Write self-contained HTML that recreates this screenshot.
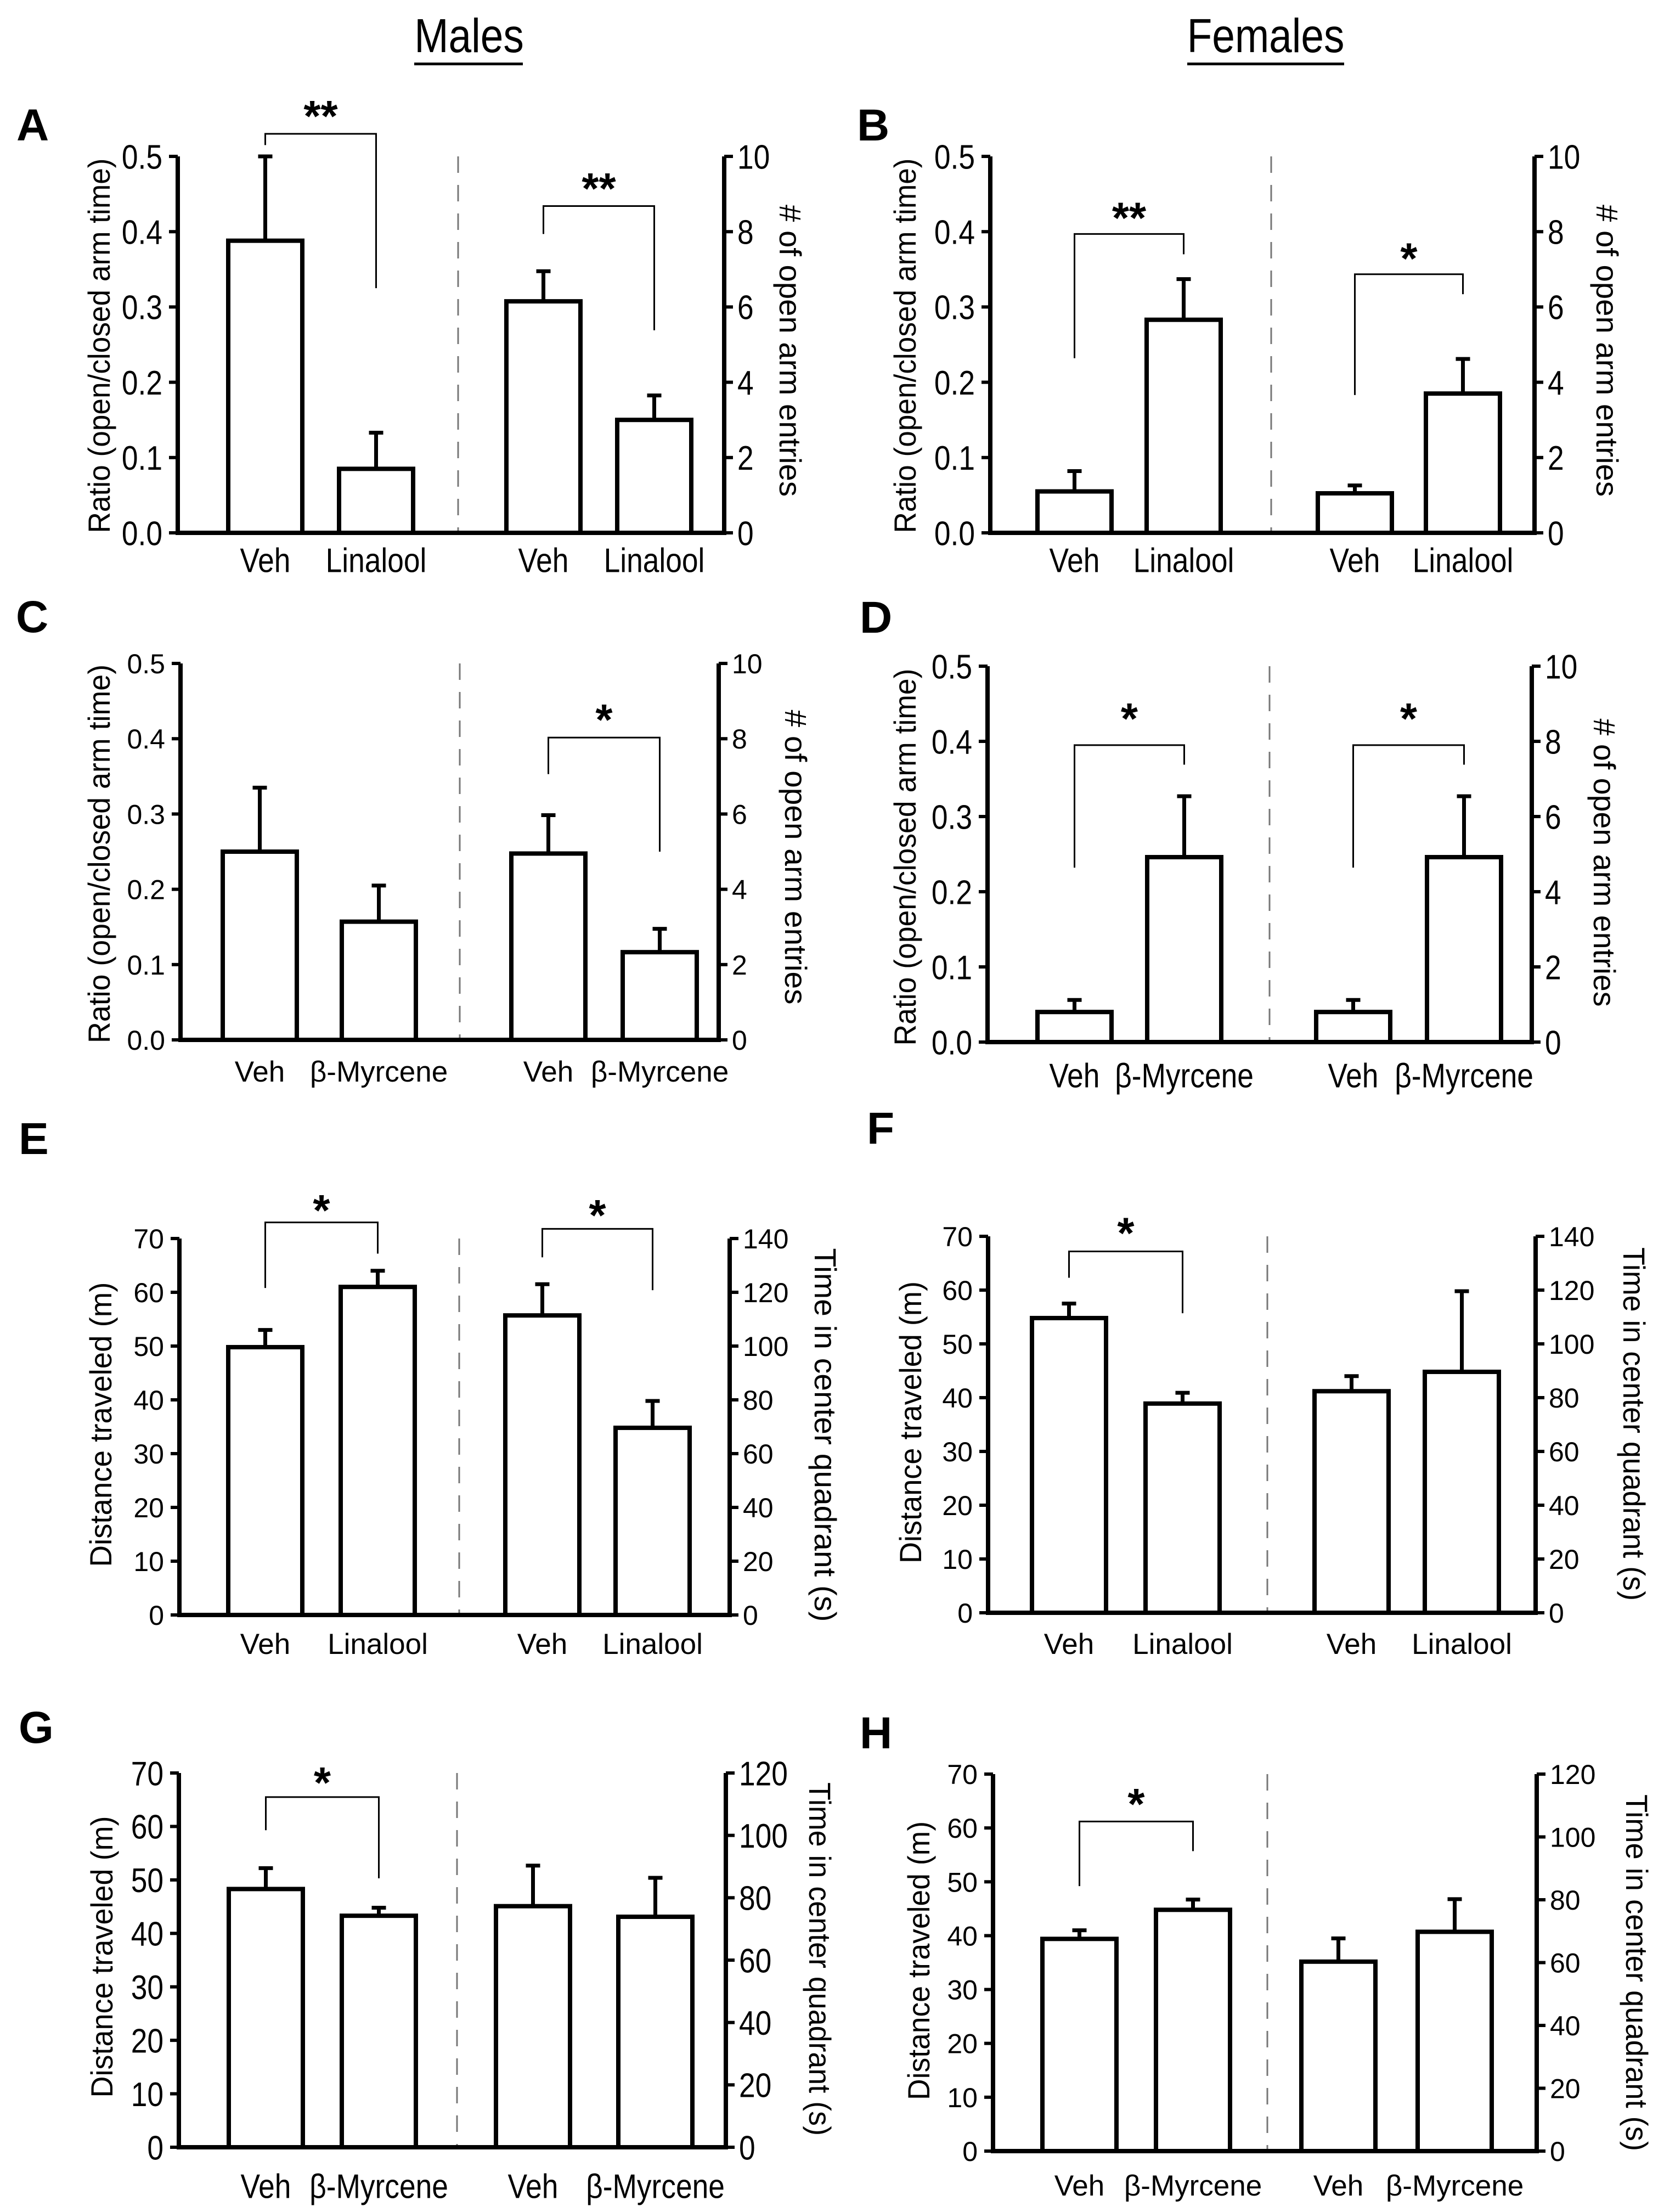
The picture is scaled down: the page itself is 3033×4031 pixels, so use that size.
<!DOCTYPE html>
<html><head><meta charset="utf-8">
<style>
html,body{margin:0;padding:0;background:#fff;}
svg{display:block;font-family:"Liberation Sans",Arial,sans-serif;}
</style></head>
<body>
<svg id="fig" width="3033" height="4031" viewBox="0 0 3033 4031" xmlns="http://www.w3.org/2000/svg">
<rect x="0" y="0" width="3033" height="4031" fill="#fff"/>
<g>
<text x="855" y="95" font-size="87" text-anchor="middle" transform="translate(855 0) scale(0.86 1) translate(-855 0)">Males</text>
<rect x="755" y="114" width="198" height="5" fill="#000"/>
</g>
<g>
<text x="2307" y="95" font-size="87" text-anchor="middle" transform="translate(2307 0) scale(0.86 1) translate(-2307 0)">Females</text>
<rect x="2164" y="114" width="286" height="5" fill="#000"/>
</g>
</svg>
<script>
// ---- data (per panel A..H) ----
const panelIds = ['A','B','C','D','E','F','G','H'];
const xCategories = [
  ['Veh','Linalool','Veh','Linalool'],
  ['Veh','Linalool','Veh','Linalool'],
  ['Veh','β-Myrcene','Veh','β-Myrcene'],
  ['Veh','β-Myrcene','Veh','β-Myrcene'],
  ['Veh','Linalool','Veh','Linalool'],
  ['Veh','Linalool','Veh','Linalool'],
  ['Veh','β-Myrcene','Veh','β-Myrcene'],
  ['Veh','β-Myrcene','Veh','β-Myrcene']
];
// bars 1-2 on left axis, bars 3-4 on right axis
const barValues = [
  [0.388, 0.085, 6.15, 3.0],
  [0.055, 0.283, 1.05, 3.7],
  [0.25, 0.157, 4.95, 2.33],
  [0.04, 0.246, 0.8, 4.92],
  [49.8, 61.0, 111.4, 69.6],
  [54.8, 38.9, 82.4, 89.6],
  [48.3, 43.3, 77.3, 73.9],
  [39.4, 44.8, 60.3, 69.8]
];
const errorTops = [
  [0.50, 0.133, 6.95, 3.65],
  [0.082, 0.337, 1.26, 4.62],
  [0.335, 0.205, 5.97, 2.95],
  [0.056, 0.327, 1.12, 6.54],
  [53.0, 64.0, 123.0, 79.6],
  [57.5, 40.9, 88.0, 119.6],
  [52.2, 44.8, 90.3, 86.4],
  [41.0, 46.7, 67.7, 80.2]
];
const leftMax = [0.5,0.5,0.5,0.5,70,70,70,70];
const rightMax = [10,10,10,10,140,140,120,120];
const leftTickLabels = [
  ['0.0','0.1','0.2','0.3','0.4','0.5'],['0.0','0.1','0.2','0.3','0.4','0.5'],
  ['0.0','0.1','0.2','0.3','0.4','0.5'],['0.0','0.1','0.2','0.3','0.4','0.5'],
  ['0','10','20','30','40','50','60','70'],['0','10','20','30','40','50','60','70'],
  ['0','10','20','30','40','50','60','70'],['0','10','20','30','40','50','60','70']
];
const rightTickLabels = [
  ['0','2','4','6','8','10'],['0','2','4','6','8','10'],['0','2','4','6','8','10'],['0','2','4','6','8','10'],
  ['0','20','40','60','80','100','120','140'],['0','20','40','60','80','100','120','140'],
  ['0','20','40','60','80','100','120'],['0','20','40','60','80','100','120']
];
const leftTitles = ['Ratio (open/closed arm time)','Ratio (open/closed arm time)','Ratio (open/closed arm time)','Ratio (open/closed arm time)',
  'Distance traveled (m)','Distance traveled (m)','Distance traveled (m)','Distance traveled (m)'];
const rightTitles = ['#  of open arm entries','#  of open arm entries','#  of open arm entries','#  of open arm entries',
  'Time in center quadrant (s)','Time in center quadrant (s)','Time in center quadrant (s)','Time in center quadrant (s)'];
// significance: [half(0 left/1 right), bracketTop, leftLegBottom, rightLegBottom, starY, label] in that half's axis units
const sigMarks = [
  [[0,0.53,0.515,0.325,0.566,'**'],[1,8.68,7.94,5.38,9.4,'**']],
  [[0,0.397,0.232,0.370,0.431,'**'],[1,6.87,3.66,6.34,7.54,'*']],
  [[1,8.03,7.06,5.0,8.76,'*']],
  [[0,0.395,0.232,0.369,0.443,'*'],[1,7.9,4.64,7.38,8.86,'*']],
  [[0,73,60.8,67.2,77,'*'],[1,143.6,133,120.8,152.2,'*']],
  [[0,67.2,62.3,55.7,72.4,'*']],
  [[0,65.5,59.3,50.3,70,'*']],
  [[0,61.2,49.2,55.7,66.2,'*']]
];
// ---- layout (pixels, not data) ----
const layout = [
 {axL:324,axR:1320,top:285,base:971,div:835,bars:[416,618,923,1125],labY:1020,lx:30,ly:256,ltx:180,lty:630,ltl:683,rtx:1441,rty:639,rtl:532,narrow:true},
 {axL:1805,axR:2797,top:285,base:971,div:2317,bars:[1891,2090,2402,2599],labY:1020,lx:1562,ly:256,ltx:1649,lty:630,ltl:683,rtx:2930,rty:639,rtl:532,narrow:true},
 {axL:329,axR:1310,top:1209,base:1895,div:838,bars:[406,623,932,1135],labY:1952,lx:29,ly:1152,ltx:180,lty:1556,ltl:690,rtx:1451,rty:1562,rtl:537,narrow:false},
 {axL:1800,axR:2792,top:1214,base:1899,div:2314,bars:[1891,2091,2399,2601],labY:1959,lx:1567,ly:1153,ltx:1649,lty:1562,ltl:687,rtx:2925,rty:1572,rtl:525,narrow:true},
 {axL:327,axR:1330,top:2257,base:2943,div:837,bars:[416,621,921,1122],labY:2995,lx:34,ly:2103,ltx:183,lty:2596,ltl:519,rtx:1505,rty:2615,rtl:681,narrow:false},
 {axL:1801,axR:2799,top:2253,base:2939,div:2310,bars:[1881,2088,2396,2597],labY:2995,lx:1580,ly:2084,ltx:1659,lty:2592,ltl:514,rtx:2979,rty:2595,rtl:644,narrow:false},
 {axL:326,axR:1323,top:3231,base:3913,div:833,bars:[417,623,904,1127],labY:3983,lx:34,ly:3176,ltx:185,lty:3566,ltl:513,rtx:1495,rty:3570,rtl:644,narrow:true},
 {axL:1810,axR:2801,top:3233,base:3920,div:2310,bars:[1900,2107,2372,2584],labY:3982,lx:1567,ly:3186,ltx:1674,lty:3573,ltl:508,rtx:2984,rty:3595,rtl:650,narrow:false}
];
const BW = 135;
const NS = 'http://www.w3.org/2000/svg';
const svg = document.getElementById('fig');

function mk(tag, attrs, parent, name) {
  const el = document.createElementNS(NS, tag);
  for (const k in attrs) el.setAttribute(k, attrs[k]);
  
  
  parent.appendChild(el);
  return el;
}
function txt(parent, name, s, x, y, fs, anchor, sx, extra) {
  const el = mk('text', Object.assign({x:x, y:y, 'font-size':fs, 'text-anchor':anchor,
    transform:'translate(' + x + ' 0) scale(' + sx + ' 1) translate(' + (-x) + ' 0)'}, extra || {}), parent, name);
  el.textContent = s;
  return el;
}

panelIds.forEach(function(pid, p) {
  const L = layout[p];
  const g = mk('g', {}, svg, 'panel-' + pid.toLowerCase());
  const sx = L.narrow ? 0.86 : 1;
  const tickFs = L.narrow ? 62 : 50;
  const labFs = L.narrow ? 62 : 53;
  const yL = function(v){ return L.base - (v / leftMax[p]) * (L.base - L.top); };
  const yR = function(v){ return L.base - (v / rightMax[p]) * (L.base - L.top); };
  const yOf = function(i, v){ return i < 2 ? yL(v) : yR(v); };
  const yHalf = function(h, v){ return h === 0 ? yL(v) : yR(v); };

  txt(g, 'panel-letter', pid, L.lx, L.ly, 82, 'start', 1, {'font-weight':'bold'});

  mk('line', {x1:L.div, y1:L.top, x2:L.div, y2:L.base, stroke:'#777', 'stroke-width':3, 'stroke-dasharray':'30 22'}, g, 'group-divider');

  barValues[p].forEach(function(v, i) {
    const x = L.bars[i];
    const cx = x + BW/2;
    const yt = yOf(i, v);
    const ye = yOf(i, errorTops[p][i]);
    mk('line', {x1:cx, y1:yt, x2:cx, y2:ye, stroke:'#000', 'stroke-width':7}, g, 'error-bar');
    mk('line', {x1:cx-13, y1:ye, x2:cx+13, y2:ye, stroke:'#000', 'stroke-width':7}, g, 'error-cap');
    mk('rect', {x:x, y:yt, width:BW, height:L.base - yt, fill:'#fff', stroke:'#000', 'stroke-width':8}, g, 'bar-' + (i+1));
    txt(g, 'x-label', xCategories[p][i], cx, L.labY + labFs*0.36, labFs, 'middle', sx);
  });

  mk('line', {x1:L.axL, y1:L.base, x2:L.axR, y2:L.base, stroke:'#000', 'stroke-width':8}, g, 'x-axis');
  mk('line', {x1:L.axL, y1:L.top, x2:L.axL, y2:L.base+4, stroke:'#000', 'stroke-width':8}, g, 'left-y-axis');
  mk('line', {x1:L.axR, y1:L.top, x2:L.axR, y2:L.base+4, stroke:'#000', 'stroke-width':8}, g, 'right-y-axis');

  const nl = leftTickLabels[p].length;
  leftTickLabels[p].forEach(function(s, k) {
    const y = yL(leftMax[p] * k / (nl - 1));
    mk('line', {x1:L.axL-16, y1:y, x2:L.axL, y2:y, stroke:'#000', 'stroke-width':6}, g, 'left-tick');
    txt(g, 'left-tick-label', s, L.axL - 28, y + tickFs*0.36, tickFs, 'end', sx);
  });
  const nr = rightTickLabels[p].length;
  rightTickLabels[p].forEach(function(s, k) {
    const y = yR(rightMax[p] * k / (nr - 1));
    mk('line', {x1:L.axR, y1:y, x2:L.axR+16, y2:y, stroke:'#000', 'stroke-width':6}, g, 'right-tick');
    txt(g, 'right-tick-label', s, L.axR + 24, y + tickFs*0.36, tickFs, 'start', sx);
  });

  const lt = mk('text', {x:0, y:0, 'font-size':56, 'text-anchor':'middle', textLength:L.ltl, lengthAdjust:'spacingAndGlyphs',
    transform:'translate(' + (L.ltx + 20) + ' ' + L.lty + ') rotate(-90)'}, g, 'left-y-axis-title');
  lt.textContent = leftTitles[p];
  const rt = mk('text', {x:0, y:0, 'font-size':56, 'text-anchor':'middle', textLength:L.rtl, lengthAdjust:'spacingAndGlyphs',
    transform:'translate(' + (L.rtx - 20) + ' ' + L.rty + ') rotate(90)'}, g, 'right-y-axis-title');
  rt.textContent = rightTitles[p];

  sigMarks[p].forEach(function(m) {
    const h = m[0];
    const xa = L.bars[h*2] + BW/2;
    const xb = L.bars[h*2+1] + BW/2;
    const yTop = yHalf(h, m[1]);
    const pts = xa + ',' + yHalf(h, m[2]) + ' ' + xa + ',' + yTop + ' ' + xb + ',' + yTop + ' ' + xb + ',' + yHalf(h, m[3]);
    mk('polyline', {points:pts, fill:'none', stroke:'#000', 'stroke-width':3}, g, 'significance-bracket');
    txt(g, 'significance-stars', m[5], (xa + xb)/2, yHalf(h, m[4]) + 80*0.56, 80, 'middle', 1, {'font-weight':'bold'});
  });
});
</script>
</body></html>
